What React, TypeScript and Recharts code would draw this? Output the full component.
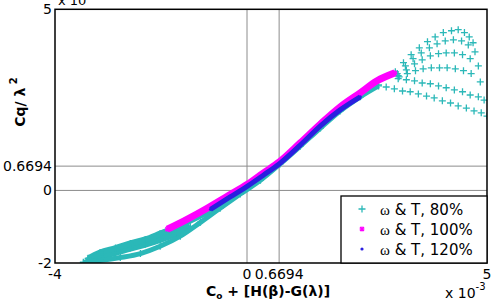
import { ScatterChart, Scatter, XAxis, YAxis, ReferenceLine } from 'recharts';

const xTicks = [-4, 0, 0.6694, 5];
const yTicks = [-2, 0, 0.6694, 5];
const markValue = 0.6694;

// ω & T, 80%  (cyan +), lower tail read as three rows
const tailTopX = [-3.31, -3.06, -2.74, -2.43, -2.12, -1.81, -1.49, -1.18, -0.76, -0.35, 0.07];
const tailTopY = [-1.87, -1.71, -1.59, -1.46, -1.35, -1.19, -1.02, -0.83, -0.55, -0.21, 0.17];
const tailMidX = [-3.35, -3.06, -2.74, -2.43, -2.12, -1.81, -1.49, -1.18];
const tailMidY = [-1.95, -1.82, -1.71, -1.59, -1.48, -1.35, -1.19, -0.99];
const tailLowX = [-3.41, -3.06, -2.64, -2.22, -1.81, -1.39, -0.97, -0.56, -0.14, 0.28, 0.69, 1.11, 1.53, 1.94, 2.36, 2.74];
const tailLowY = [-1.98, -1.93, -1.85, -1.74, -1.54, -1.26, -0.88, -0.49, -0.1, 0.28, 0.73, 1.22, 1.72, 2.19, 2.58, 2.88];

// ω & T, 80% fan at the high end
const fanAX = [3.09, 3.26, 3.42, 3.59, 3.76, 3.92, 4.09, 4.26, 4.4, 4.53, 4.63, 4.71];
const fanAY = [3.27, 3.52, 3.74, 3.93, 4.1, 4.23, 4.35, 4.4, 4.43, 4.35, 4.23, 4.07];
const fanBX = [3.13, 3.3, 3.46, 3.63, 3.8, 3.96, 4.13, 4.3, 4.47, 4.61, 4.75];
const fanBY = [3.22, 3.43, 3.63, 3.79, 3.93, 4.04, 4.12, 4.15, 4.12, 4.01, 3.82];
const fanCX = [3.15, 3.32, 3.49, 3.65, 3.82, 3.99, 4.15, 4.32, 4.49, 4.65, 4.82];
const fanCY = [3.16, 3.32, 3.49, 3.6, 3.71, 3.77, 3.79, 3.79, 3.74, 3.63, 3.43];
const fanDX = [3.17, 3.34, 3.51, 3.67, 3.84, 4.01, 4.17, 4.34, 4.51, 4.67, 4.86];
const fanDY = [3.13, 3.22, 3.3, 3.35, 3.38, 3.38, 3.38, 3.35, 3.3, 3.22, 2.99];
const fanEX = [3.15, 3.32, 3.49, 3.65, 3.82, 3.99, 4.15, 4.32, 4.49, 4.65, 4.82, 4.94];
const fanEY = [3.08, 3.05, 3.02, 2.96, 2.94, 2.88, 2.83, 2.77, 2.72, 2.63, 2.58, 2.49];
const fanGX = [2.74, 2.9, 3.07, 3.24, 3.4, 3.57, 3.74, 3.9, 4.07, 4.24, 4.4, 4.57, 4.73, 4.88, 5.0];
const fanGY = [2.91, 2.85, 2.8, 2.74, 2.72, 2.66, 2.6, 2.55, 2.47, 2.41, 2.33, 2.27, 2.19, 2.14, 2.05];

// ω & T, 100%  (magenta *)
const pinkX = [-1.66, -1.24, -0.83, -0.41, 0.01, 0.34, 0.67, 1.11, 1.53, 1.94, 2.36, 2.71, 3.08];
const pinkY = [-1.07, -0.79, -0.49, -0.16, 0.17, 0.48, 0.78, 1.31, 1.83, 2.3, 2.69, 3.02, 3.24];

// ω & T, 120%  (blue .)
const blueX = [-0.76, -0.35, 0.01, 0.34, 0.67, 1.11, 1.53, 1.94, 2.36];
const blueY = [-0.52, -0.18, 0.12, 0.42, 0.73, 1.25, 1.78, 2.22, 2.58];

const legendLabels = ['80%', '100%', '120%'];

const CYAN = '#2bb8b8';
const PINK = '#ff00ff';
const BLUE = '#2a1fe0';
const FONT = 'DejaVu Sans, Arial, sans-serif';

const zip = (xs: number[], ys: number[]) => xs.map((x, i) => ({ x, y: ys[i] }));

const cross = (p: any) => (
  <path d={`M${p.cx - 3.5},${p.cy}h7M${p.cx},${p.cy - 3.5}v7`} stroke={CYAN} strokeWidth={1.3} fill="none" />
);
const star = (p: any) => (
  <path
    d={`M${p.cx - 2.5},${p.cy}h5M${p.cx},${p.cy - 2.5}v5M${p.cx - 2},${p.cy - 2}l4,4M${p.cx - 2},${p.cy + 2}l4,-4`}
    stroke={PINK}
    strokeWidth={1.2}
  />
);
const dot = (p: any) => <circle cx={p.cx} cy={p.cy} r={1.6} fill={BLUE} />;

const cyanSets = [
  zip(fanAX, fanAY),
  zip(fanBX, fanBY),
  zip(fanCX, fanCY),
  zip(fanDX, fanDY),
  zip(fanEX, fanEY),
  zip(fanGX, fanGY),
];

export default function App() {
  return (
    <div style={{ position: 'absolute', left: 0, top: 0, width: 501, height: 300, background: '#fff' }}>
      <ScatterChart width={501} height={300} margin={{ top: 9, right: 14, left: 0, bottom: 0 }}>
        <XAxis
          type="number"
          dataKey="x"
          domain={[-4, 5]}
          ticks={xTicks}
          interval={0}
          allowDataOverflow
          axisLine={false}
          tickLine={false}
          tickSize={4}
          tickMargin={2}
          height={37}
          tick={{ fill: '#000', fontSize: 14, fontFamily: FONT }}
        />
        <YAxis
          type="number"
          dataKey="y"
          domain={[-2, 5]}
          ticks={yTicks}
          interval={0}
          allowDataOverflow
          axisLine={false}
          tickLine={false}
          tickSize={1}
          tickMargin={2}
          width={55}
          tick={{ fill: '#000', fontSize: 14, fontFamily: FONT }}
        />
        <ReferenceLine x={0} stroke="#8c8c8c" />
        <ReferenceLine x={markValue} stroke="#8c8c8c" />
        <ReferenceLine y={0} stroke="#8c8c8c" />
        <ReferenceLine y={markValue} stroke="#8c8c8c" />
        <Scatter data={zip(tailMidX, tailMidY)} shape={cross} line={{ stroke: CYAN, strokeWidth: 7 }} lineJointType="monotoneX" isAnimationActive={false} />
        <Scatter data={zip(tailTopX, tailTopY)} shape={cross} line={{ stroke: CYAN, strokeWidth: 6 }} lineJointType="monotoneX" isAnimationActive={false} />
        <Scatter data={zip(tailLowX, tailLowY)} shape={cross} line={{ stroke: CYAN, strokeWidth: 5 }} lineJointType="monotoneX" isAnimationActive={false} />
        {cyanSets.map((d, i) => (
          <Scatter key={i} data={d} shape={cross} isAnimationActive={false} />
        ))}
        <Scatter
          data={zip(pinkX, pinkY)}
          shape={star}
          line={{ stroke: PINK, strokeWidth: 7 }}
          lineJointType="monotoneX"
          isAnimationActive={false}
        />
        <Scatter
          data={zip(blueX, blueY)}
          shape={dot}
          line={{ stroke: BLUE, strokeWidth: 5 }}
          lineJointType="monotoneX"
          isAnimationActive={false}
        />
      </ScatterChart>
      <svg width={501} height={300} style={{ position: 'absolute', left: 0, top: 0, pointerEvents: 'none' }}>
        <rect x={55} y={9.3} width={432} height={253.7} fill="none" stroke="#000" strokeWidth={1.5} />
        <text x={58} y={5} fontFamily={FONT} fontSize={13}>x 10</text>
        <text transform="translate(25,102) rotate(-90)" textAnchor="middle" fontFamily={FONT} fontSize={14} fontWeight="bold">
          Cq/ λ<tspan dy={-8} fontSize={10}> 2</tspan>
        </text>
        <text x={268} y={296} textAnchor="middle" fontFamily={FONT} fontSize={14} fontWeight="bold">
          C<tspan dy={3} fontSize={9}>o</tspan>
          <tspan dy={-3}> + [H(β)-G(λ)]</tspan>
        </text>
        <text x={445} y={298} fontFamily={FONT} fontSize={14}>
          x 10<tspan dy={-8} fontSize={10}>-3</tspan>
        </text>
        <rect x={341} y={196} width={146} height={67} fill="#fff" stroke="#000" strokeWidth={1.3} />
        {legendLabels.map((lab, i) => {
          const cy = 209 + i * 20;
          return (
            <g key={lab}>
              {i === 0 && cross({ cx: 362, cy })}
              {i === 1 && star({ cx: 362, cy })}
              {i === 2 && dot({ cx: 362, cy })}
              <text x={380} y={cy + 6} fontFamily={FONT} fontSize={15}>
                <tspan fontFamily="Liberation Serif, serif">ω</tspan> &amp; T, {lab}
              </text>
            </g>
          );
        })}
      </svg>
    </div>
  );
}
